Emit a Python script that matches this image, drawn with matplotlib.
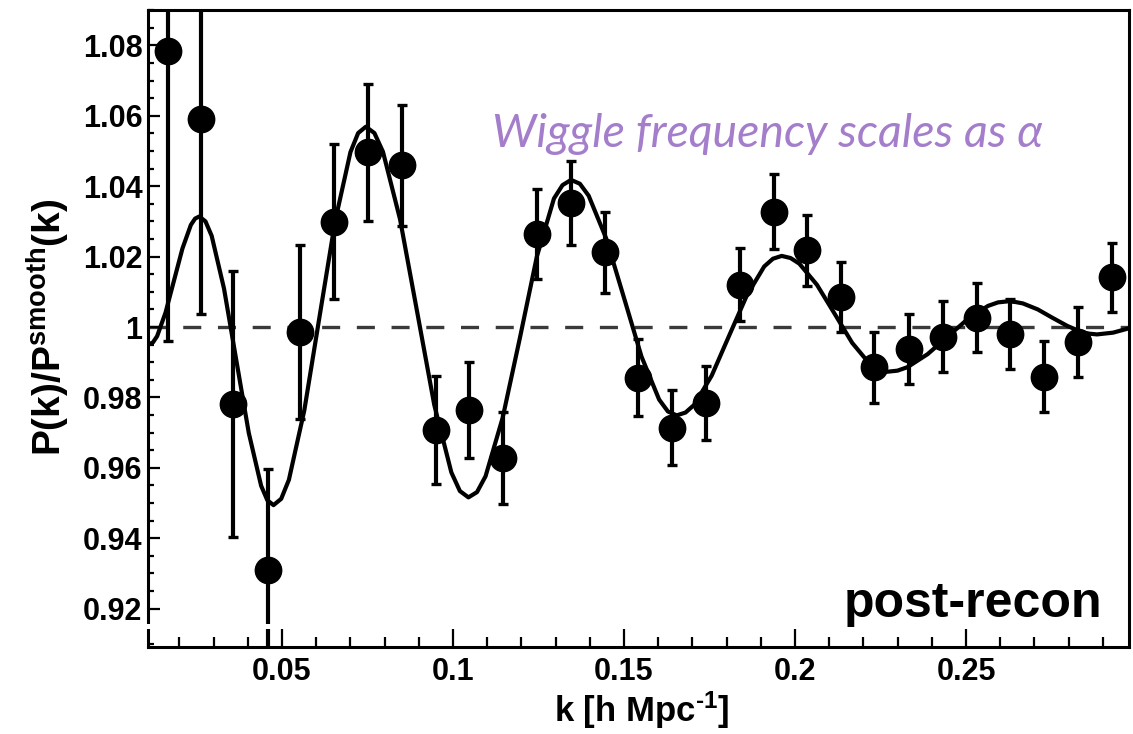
import matplotlib
matplotlib.use("Agg")
import matplotlib.pyplot as plt
from matplotlib.ticker import MultipleLocator, FuncFormatter
from matplotlib.patches import Rectangle

# ---------------- data ----------------
k_data = [0.0166, 0.0263, 0.0358, 0.0458, 0.0553, 0.0652, 0.0752, 0.0852, 0.0950,
          0.1048, 0.1147, 0.1245, 0.1344, 0.1444, 0.1541, 0.1641, 0.1739, 0.1839,
          0.1937, 0.2036, 0.2134, 0.2231, 0.2334, 0.2434, 0.2531, 0.2629, 0.2728,
          0.2828, 0.2926]
ratio_data = [1.0785, 1.0591, 0.9781, 0.9311, 0.9985, 1.0299, 1.0496, 1.0459, 0.9708,
              0.9764, 0.9628, 1.0265, 1.0352, 1.0212, 0.9856, 0.9714, 0.9785, 1.0120,
              1.0328, 1.0218, 1.0085, 0.9885, 0.9938, 0.9973, 1.0026, 0.9981, 0.9859,
              0.9958, 1.0141]
ratio_err = [0.0825, 0.0553, 0.0377, 0.0285, 0.0247, 0.0220, 0.0194, 0.0172, 0.0153,
             0.0137, 0.0131, 0.0128, 0.0120, 0.0116, 0.0110, 0.0106, 0.0105, 0.0104,
             0.0106, 0.0101, 0.0100, 0.0100, 0.0100, 0.0100, 0.0098, 0.0099, 0.0100,
             0.0100, 0.0097]

model_k = [0.0108, 0.01223, 0.01347, 0.01593, 0.0184, 0.02087, 0.02333, 0.02457,
           0.0258, 0.02761, 0.02942, 0.03303, 0.03665, 0.04027, 0.04388, 0.04569,
           0.0475, 0.04975, 0.0520, 0.0565, 0.0610, 0.0655, 0.0700, 0.07225,
           0.0745, 0.0770, 0.0795, 0.0845, 0.0895, 0.0945, 0.0995, 0.1020,
           0.1045, 0.1070, 0.1095, 0.1145, 0.1195, 0.1245, 0.1295, 0.1320,
           0.1345, 0.13708, 0.13965, 0.1448, 0.14995, 0.1551, 0.16025, 0.16283,
           0.1654, 0.16796, 0.17052, 0.17563, 0.18075, 0.18587, 0.19098, 0.19354,
           0.1961, 0.19868, 0.20125, 0.2064, 0.21155, 0.2167, 0.22185, 0.22443,
           0.2270, 0.22994, 0.23288, 0.23877, 0.24465, 0.25053, 0.25642, 0.25936,
           0.2623, 0.26447, 0.26663, 0.27097, 0.2753, 0.27963, 0.28397, 0.28613,
           0.2883, 0.2930, 0.2975]
model_ratio = [0.9950, 0.9956, 0.9974, 1.0041, 1.0132, 1.0223, 1.0290, 1.0308,
               1.0314, 1.0300, 1.0259, 1.0109, 0.9904, 0.9699, 0.9549, 0.9508,
               0.9494, 0.9512, 0.9566, 0.9763, 1.0032, 1.0300, 1.0497, 1.0551,
               1.0569, 1.0551, 1.0498, 1.0306, 1.0043, 0.9779, 0.9587, 0.9534,
               0.9516, 0.9531, 0.9576, 0.9742, 0.9967, 1.0200, 1.0365, 1.0403,
               1.0418, 1.0407, 1.0373, 1.0251, 1.0084, 0.9916, 0.9794, 0.9760,
               0.9749, 0.9757, 0.9779, 0.9862, 0.9976, 1.0089, 1.0172, 1.0194,
               1.0202, 1.0196, 1.0180, 1.0120, 1.0038, 0.9955, 0.9895, 0.9879,
               0.9873, 0.9876, 0.9886, 0.9923, 0.9973, 1.0023, 1.0060, 1.0070,
               1.0073, 1.0071, 1.0067, 1.0050, 1.0026, 1.0003, 0.9985, 0.9981,
               0.9979, 0.9984, 0.9996]

x_major_ticks = [0.05, 0.10, 0.15, 0.20, 0.25]
y_major_ticks = [0.92, 0.94, 0.96, 0.98, 1.00, 1.02, 1.04, 1.06, 1.08]

x_label = r"k [h Mpc$^{\text{-1}}$]"
y_label = r"P(k)/P$^{\text{smooth}}$(k)"
panel_label = "post-recon"
note_text = "Wiggle frequency scales as \u03b1"

# ---------------- style ----------------
plt.rcParams['font.family'] = ['Liberation Sans', 'DejaVu Sans']
plt.rcParams['font.weight'] = 'bold'
plt.rcParams['mathtext.fontset'] = 'custom'
plt.rcParams['mathtext.rm'] = 'Liberation Sans:bold'
plt.rcParams['mathtext.it'] = 'Liberation Sans:bold'
plt.rcParams['mathtext.bf'] = 'Liberation Sans:bold'
plt.rcParams['lines.scale_dashes'] = False

W, H = 1133, 734
fig = plt.figure(figsize=(W / 100, H / 100), dpi=100)
left_px, right_px, top_px, bottom_px = 148, 1128.5, 9.5, 647
ax = fig.add_axes([left_px / W, 1 - bottom_px / H,
                   (right_px - left_px) / W, (bottom_px - top_px) / H])

ax.set_xlim(0.0108, 0.2975)
ax.set_ylim(0.9091, 1.0902)

ax.axhline(1.0, color='#3a3a3a', lw=2.4, dashes=(13, 12), zorder=1)
ax.plot(model_k, model_ratio, color='black', lw=3.0, zorder=2,
        solid_joinstyle='round', solid_capstyle='round')
ax.errorbar(k_data, ratio_data, yerr=ratio_err, fmt='o', color='black',
            ms=19, elinewidth=3.0, capsize=3.5, capthick=2.4, zorder=3)

for s in ax.spines.values():
    s.set_linewidth(2.2)
    s.set_color('black')

ax.set_xticks(x_major_ticks)
ax.set_yticks(y_major_ticks)
ax.xaxis.set_minor_locator(MultipleLocator(0.01))
ax.yaxis.set_minor_locator(MultipleLocator(0.005))
fmt = FuncFormatter(lambda v, p: "%g" % round(v, 4))
ax.xaxis.set_major_formatter(fmt)
ax.yaxis.set_major_formatter(fmt)
ax.tick_params(axis='x', which='major', direction='in', length=14.5, width=1.6,
               labelsize=22, pad=7, top=False)
ax.tick_params(axis='x', which='minor', direction='in', length=7.2, width=1.6, top=False)
ax.tick_params(axis='y', which='major', direction='in', length=8.6, width=1.6,
               labelsize=22, pad=4, right=False)
ax.tick_params(axis='y', which='minor', direction='in', length=4.5, width=1.6, right=False)
for lab in ax.get_xticklabels() + ax.get_yticklabels():
    lab.set_fontweight('bold')

fig.text(642 / W, 1 - 722 / H, x_label, ha='center', va='baseline',
         fontsize=25, fontweight='bold')
fig.text(62 / W, 1 - 327 / H, y_label, ha='center', va='baseline', rotation=90,
         fontsize=28, fontweight='bold', rotation_mode='anchor')

# white strip seen in the reference just above the x axis
fig.patches.append(Rectangle((140 / W, 1 - 628.5 / H), (1125 - 140) / W, 4.5 / H,
                             transform=fig.transFigure, facecolor='white',
                             edgecolor='none', zorder=5))

fig.text(1102 / W, 1 - 617 / H, panel_label, ha='right', va='baseline',
         fontsize=36, fontweight='bold', zorder=6)
fig.text(492 / W, 1 - 147 / H, note_text, ha='left', va='baseline',
         fontsize=33.5, style='italic', fontweight='normal', color='#A47DCB',
         family=['Lato', 'DejaVu Sans'], zorder=6)

fig.savefig('out.png', dpi=100)
